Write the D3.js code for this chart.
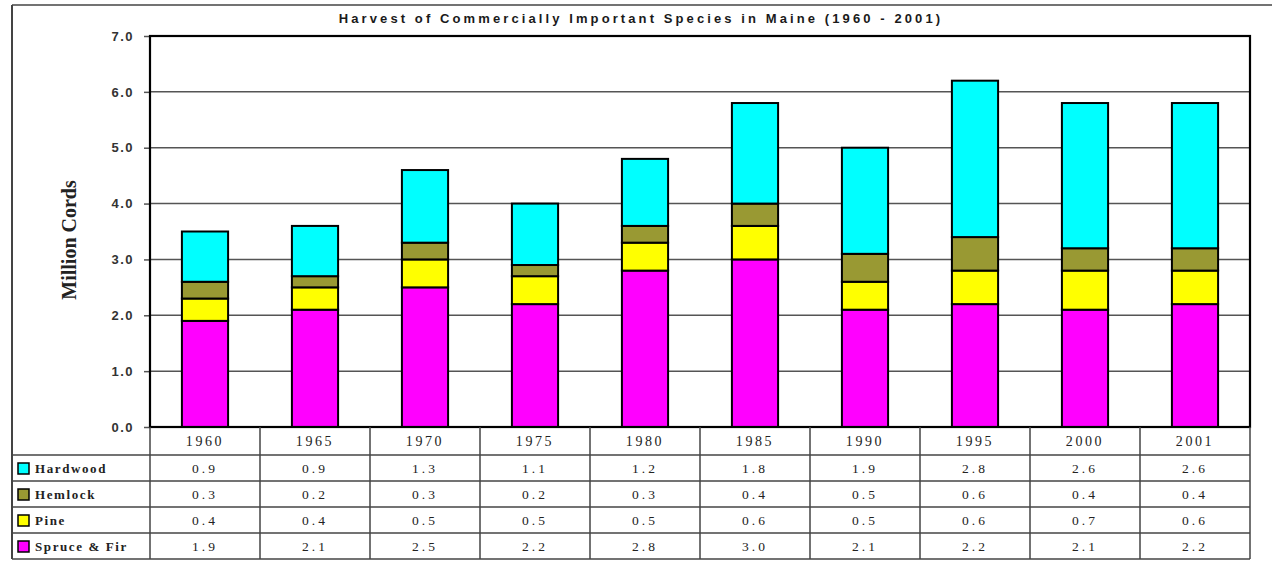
<!DOCTYPE html>
<html>
<head>
<meta charset="utf-8">
<script src="https://cdn.jsdelivr.net/npm/d3@7"></script>
<style>
  body { margin: 0; background: #fff; }
  svg { display: block; }
</style>
</head>
<body>
<div id="chart"></div>
<script>
// data (million cords)
var years = ["1960", "1965", "1970", "1975", "1980", "1985", "1990", "1995", "2000", "2001"];
var species = ["Spruce & Fir", "Pine", "Hemlock", "Hardwood"];
var spruceFir = [1.9, 2.1, 2.5, 2.2, 2.8, 3.0, 2.1, 2.2, 2.1, 2.2];
var pine = [0.4, 0.4, 0.5, 0.5, 0.5, 0.6, 0.5, 0.6, 0.7, 0.6];
var hemlock = [0.3, 0.2, 0.3, 0.2, 0.3, 0.4, 0.5, 0.6, 0.4, 0.4];
var hardwood = [0.9, 0.9, 1.3, 1.1, 1.2, 1.8, 1.9, 2.8, 2.6, 2.6];
var yTicks = [0, 1, 2, 3, 4, 5, 6, 7];

var colors = {
    "Spruce & Fir": "#ff00ff",
    "Pine": "#ffff00",
    "Hemlock": "#999933",
    "Hardwood": "#00ffff"
};
var seriesValues = {
    "Spruce & Fir": spruceFir,
    "Pine": pine,
    "Hemlock": hemlock,
    "Hardwood": hardwood
};

var svgWidth = 1272, svgHeight = 561;
var margin = { top: 36, left: 150, right: 22, bottom: 134 };
var chartWidth = svgWidth - margin.left - margin.right;   // 1100
var chartHeight = svgHeight - margin.top - margin.bottom; // 391

var svg = d3.select("#chart").append("svg")
    .attr("width", svgWidth)
    .attr("height", svgHeight);

// outer frame (top + left)
svg.append("line").attr("x1", 12).attr("x2", 1272).attr("y1", 5).attr("y2", 5)
    .attr("stroke", "#444").attr("stroke-width", 1.5);
svg.append("line").attr("x1", 12).attr("x2", 12).attr("y1", 5).attr("y2", 559)
    .attr("stroke", "#444").attr("stroke-width", 2);

// title
svg.append("text")
    .attr("x", 641)
    .attr("y", 23)
    .attr("text-anchor", "middle")
    .style("font-family", "'Liberation Sans', Arial, sans-serif")
    .style("font-weight", "bold")
    .style("font-size", "13px")
    .style("letter-spacing", "3.1px")
    .attr("fill", "#1a1a1a")
    .text("Harvest of Commercially Important Species in Maine (1960 - 2001)");

var chartGroup = svg.append("g")
    .attr("transform", `translate(${margin.left}, ${margin.top})`);

var xScale = d3.scaleBand()
    .domain(years)
    .range([0, chartWidth])
    .paddingInner(0.58)
    .paddingOuter(0.29);

var yScale = d3.scaleLinear()
    .domain([0, 7])
    .range([chartHeight, 0]);

// gridlines
chartGroup.append("g").selectAll("line")
    .data(yTicks.slice(1, -1))
    .enter()
    .append("line")
    .attr("x1", 0)
    .attr("x2", chartWidth)
    .attr("y1", d => yScale(d))
    .attr("y2", d => yScale(d))
    .attr("stroke", "#555")
    .attr("stroke-width", 1.5);

// y axis
var yAxis = d3.axisLeft(yScale)
    .tickValues(yTicks)
    .tickSize(6)
    .tickPadding(10)
    .tickFormat(d3.format(".1f"));

var yAxisG = chartGroup.append("g").call(yAxis);
yAxisG.select(".domain").remove();
yAxisG.selectAll(".tick line").attr("stroke", "#555").attr("stroke-width", 1.5);
yAxisG.selectAll("text")
    .style("font-family", "'Liberation Sans', Arial, sans-serif")
    .style("font-weight", "bold")
    .style("font-size", "13px")
    .style("letter-spacing", "1.5px")
    .attr("fill", "#333");

// stacked bars
var stackData = years.map(function(y, i) {
    var row = { year: y };
    species.forEach(function(s) { row[s] = seriesValues[s][i]; });
    return row;
});
var stacked = d3.stack().keys(species)(stackData);

var layers = chartGroup.append("g").selectAll("g")
    .data(stacked)
    .enter()
    .append("g")
    .attr("fill", d => colors[d.key]);

layers.selectAll("rect")
    .data(d => d)
    .enter()
    .append("rect")
    .attr("x", d => xScale(d.data.year))
    .attr("width", xScale.bandwidth())
    .attr("y", d => yScale(d[1]))
    .attr("height", d => yScale(d[0]) - yScale(d[1]))
    .attr("stroke", "#000")
    .attr("stroke-width", 2);

// plot frame
chartGroup.append("rect")
    .attr("x", 0)
    .attr("y", 0)
    .attr("width", chartWidth)
    .attr("height", chartHeight)
    .attr("fill", "none")
    .attr("stroke", "#000")
    .attr("stroke-width", 2.2);

// data table
var tableTop = margin.top + chartHeight;
var headerH = 28, rowH = 26;
var tableRows = ["Hardwood", "Hemlock", "Pine", "Spruce & Fir"];
var tableBottom = tableTop + headerH + rowH * tableRows.length;
var table = svg.append("g");
var lineColor = "#444";

// column dividers
var step = xScale.step();
var colX = d3.range(years.length + 1).map(i => margin.left + i * step);
table.selectAll("line.col")
    .data(colX)
    .enter()
    .append("line")
    .attr("class", "col")
    .attr("x1", d => d)
    .attr("x2", d => d)
    .attr("y1", tableTop)
    .attr("y2", tableBottom)
    .attr("stroke", lineColor)
    .attr("stroke-width", 1.5);

// row dividers
var rowY = d3.range(tableRows.length + 1).map(i => tableTop + headerH + i * rowH);
table.selectAll("line.row")
    .data(rowY)
    .enter()
    .append("line")
    .attr("class", "row")
    .attr("x1", 12)
    .attr("x2", margin.left + chartWidth)
    .attr("y1", d => d)
    .attr("y2", d => d)
    .attr("stroke", lineColor)
    .attr("stroke-width", 1.5);

// year header
table.selectAll("text.year")
    .data(years)
    .enter()
    .append("text")
    .attr("class", "year")
    .attr("x", d => margin.left + xScale(d) + xScale.bandwidth() / 2)
    .attr("y", tableTop + 19)
    .attr("text-anchor", "middle")
    .style("font-family", "'Liberation Serif', 'Times New Roman', serif")
    .style("font-size", "14px")
    .style("letter-spacing", "2.6px")
    .attr("fill", "#222")
    .text(d => d);

// legend column + values
tableRows.forEach(function(s, r) {
    var cy = tableTop + headerH + r * rowH + rowH / 2;
    table.append("rect")
        .attr("x", 18)
        .attr("y", cy - 5)
        .attr("width", 11)
        .attr("height", 11)
        .attr("fill", colors[s])
        .attr("stroke", "#000")
        .attr("stroke-width", 1.5);
    table.append("text")
        .attr("x", 35)
        .attr("y", cy + 5)
        .style("font-family", "'Liberation Serif', 'Times New Roman', serif")
        .style("font-weight", "bold")
        .style("font-size", "13px")
        .style("letter-spacing", "1.6px")
        .attr("fill", "#222")
        .text(s);
    table.selectAll("text.v" + r)
        .data(seriesValues[s])
        .enter()
        .append("text")
        .attr("class", "v" + r)
        .attr("x", (d, i) => margin.left + xScale(years[i]) + xScale.bandwidth() / 2)
        .attr("y", cy + 5)
        .attr("text-anchor", "middle")
        .style("font-family", "'Liberation Serif', 'Times New Roman', serif")
        .style("font-size", "13.5px")
        .style("letter-spacing", "3px")
        .attr("fill", "#222")
        .text(d => d.toFixed(1));
});

// y axis label
svg.append("text")
    .attr("transform", "translate(76, 240) rotate(-90)")
    .attr("text-anchor", "middle")
    .style("font-family", "'Liberation Serif', 'Times New Roman', serif")
    .style("font-weight", "bold")
    .style("font-size", "20px")
    .attr("fill", "#222")
    .text("Million Cords");
</script>
</body>
</html>
